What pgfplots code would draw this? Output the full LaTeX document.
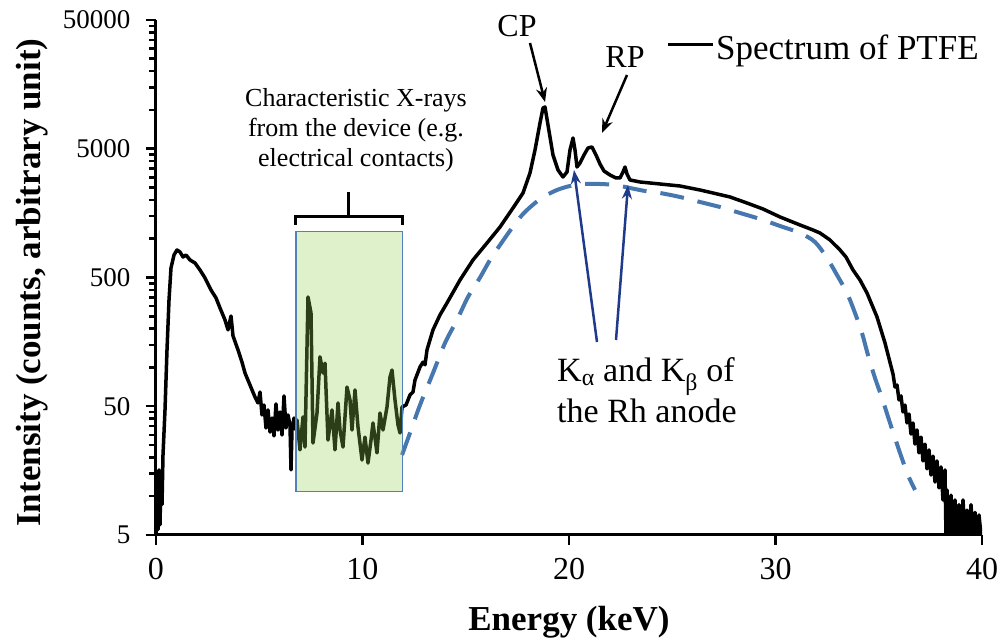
\documentclass[border=0pt]{standalone}
\usepackage{pgfplots}
\pgfplotsset{compat=1.18}
\usepackage{pgfplotstable}
\usepackage{fontspec}
\setmainfont{Liberation Serif}
\usetikzlibrary{arrows.meta}
\definecolor{dashblue}{HTML}{4677AF}
\definecolor{navy}{HTML}{1F3A8A}
\definecolor{boxgreen}{HTML}{92D050}
\definecolor{boxedge}{HTML}{4F81BD}

\pgfplotstableread{
x y
0 5
0.048 13.4
0.097 5.5
0.145 16.0
0.194 6.0
0.242 14.6
0.291 8.6
0.339 20.9
0.436 46.8
0.533 137
0.630 334
0.726 593
0.872 748
1.017 818
1.162 789
1.308 721
1.453 748
1.646 684
1.889 648
2.131 572
2.373 496
2.663 400
2.906 347
3.099 290
3.341 234
3.487 196
3.632 251
3.729 176
3.971 137
4.165 110
4.310 90.6
4.552 73.1
4.794 59.0
4.939 53.0
5.036 64.5
5.133 42.8
5.230 51.1
5.327 33.9
5.424 46.8
5.521 31.5
5.617 40.5
5.714 29.4
5.811 52.1
5.908 32.7
6.005 45.1
6.102 29.9
6.199 60.1
6.295 33.9
6.392 42.8
6.489 35.8
6.538 16.0
6.586 32.7
6.683 40.5
6.780 32.7
6.828 39.1
6.973 22.9
7.119 41.3
7.215 24.1
7.361 353
7.506 265
7.603 25.9
7.797 44.3
7.942 121
8.087 90.6
8.184 108
8.329 27.3
8.523 46.8
8.668 22.9
8.814 53.0
8.910 32.7
9.056 24.1
9.249 70.5
9.395 55.9
9.492 32.7
9.637 66.9
9.782 34.5
9.976 19.1
10.121 28.8
10.266 18.1
10.412 27.3
10.508 37.1
10.702 21.7
10.847 44.3
10.993 32.7
11.186 49.3
11.332 84.4
11.429 95.6
11.574 55.9
11.719 35.8
11.816 31.0
11.913 49.3
12.107 51.1
12.300 61.2
12.446 64.5
12.542 79.9
12.785 101
12.930 110
13.027 105
13.124 137
13.414 196
13.753 256
14.092 317
14.722 478
15.351 684
16.029 927
16.659 1233
17.288 1733
17.772 2266
18.111 3241
18.354 4890
18.596 7924
18.741 10362
18.838 10550
18.983 7646
19.225 4472
19.467 3420
19.709 3017
19.903 3299
20.048 4890
20.194 6061
20.291 4890
20.387 3608
20.533 3875
20.726 4472
20.920 5067
21.114 5160
21.308 4472
21.501 3807
21.695 3359
21.985 3127
22.276 2964
22.470 2964
22.615 3299
22.712 3608
22.809 3184
22.954 2860
23.438 2759
23.923 2710
24.407 2662
24.891 2614
25.375 2568
25.860 2478
26.344 2391
26.973 2266
27.797 2110
28.620 1894
29.395 1702
30.218 1476
31.186 1279
31.816 1169
32.155 1108
32.639 978
33.123 818
33.414 721
33.753 572
34.092 478
34.431 379
34.915 247
35.303 155
35.690 89.0
35.787 70.5
35.884 73.1
35.981 55.9
36.077 60.1
36.174 45.1
36.271 51.1
36.368 37.1
36.465 43.5
36.562 30.4
36.659 37.1
36.755 25.4
36.852 32.7
36.949 21.7
37.046 28.8
37.143 18.8
37.240 25.4
37.337 16.3
37.433 22.9
37.530 14.6
37.627 20.5
37.724 12.9
37.821 18.8
37.918 11.6
38.015 16.9
38.111 9.35
38.208 16.0
38.255 5
38.305 11.2
38.402 5
38.499 10.2
38.596 5
38.692 9.35
38.789 5
38.886 8.6
38.983 5
39.080 9.35
39.177 5
39.274 7.8
39.370 5
39.467 8.6
39.564 5
39.661 7.5
39.758 5
39.855 7.15
39.952 5
}\spectrum

% dashed continuum
\pgfplotstableread{
x y
11.913 20.9
12.300 31.0
12.785 51.1
13.414 90.6
13.995 155
14.576 234
15.109 353
15.690 499
16.174 684
16.659 894
17.240 1212
17.772 1557
18.354 1894
18.838 2148
19.419 2391
20.048 2568
20.775 2662
21.501 2662
22.228 2614
22.954 2478
23.680 2349
24.407 2266
25.375 2110
26.344 1929
27.312 1764
28.281 1585
29.249 1424
30.218 1256
31.186 1108
31.913 943
32.494 709
32.978 523
33.462 379
33.850 265
34.189 185
34.479 125
34.818 82.9
35.157 58.0
35.545 37.1
36.029 21.7
36.416 14.6
36.755 11.2
}\continuum

\begin{document}
\begin{tikzpicture}
\begin{axis}[
    scale only axis,
    width=826pt, height=515pt,
    xmin=0, xmax=40,
    ymode=log, ymin=5, ymax=50000,
    axis lines=left,
    axis line style={-, line width=3pt},
    xtick={0,10,20,30,40},
    ytick={5,50,500,5000,50000},
    yticklabels={5,50,500,5000,50000},
    minor ytick={10,15,20,25,30,35,40,45,100,150,200,250,300,350,400,450,1000,1500,2000,2500,3000,3500,4000,4500,10000,15000,20000,25000,30000,35000,40000,45000},
    tick align=outside,
    major tick length=10pt,
    minor tick length=7pt,
    tick style={black, line width=2.5pt},
    /pgf/number format/assume math mode=true,
    xticklabel style={font=\fontsize{32}{38}\selectfont},
    yticklabel style={font=\fontsize{27}{32}\selectfont},
    xticklabel shift=10pt,
    yticklabel shift=12pt,
    xlabel={Energy (keV)},
    ylabel={Intensity (counts, arbitrary unit)},
    xlabel style={font=\fontsize{35}{42}\selectfont\bfseries,
      at={(axis description cs:0.5,-0.1845)}, anchor=base},
    ylabel style={font=\fontsize{35}{42}\selectfont\bfseries,
      at={(axis description cs:-0.1404,0.49)}, anchor=base},
  ]

  \addplot[black, line width=3.5pt, line join=round] table {\spectrum};
  \addplot[dashblue, line width=4pt, smooth, dash pattern=on 24pt off 14pt] table {\continuum};

  % region of the device lines
  \draw[boxedge, line width=1.5pt, fill=boxgreen, fill opacity=0.3]
    (axis cs:6.78,10.9) rectangle (axis cs:11.93,1140);

\end{axis}

% legend
\draw[black, line width=3pt] (512pt,490pt) -- (557pt,490pt);
\node[anchor=base west, inner sep=0pt, font=\fontsize{35}{42}\selectfont]
  at (560pt,475pt) {Spectrum of PTFE};

% CP and RP
\node[anchor=base, inner sep=0pt, font=\fontsize{32}{38}\selectfont]
  at (361pt,498pt) {CP};
\draw[black, line width=2.5pt, -{Stealth[length=14pt,width=11pt]}]
  (374pt,492pt) -- (389pt,433pt);
\node[anchor=base, inner sep=0pt, font=\fontsize{32}{38}\selectfont]
  at (469pt,467pt) {RP};
\draw[black, line width=2.5pt, -{Stealth[length=14pt,width=11pt]}]
  (471pt,460pt) -- (446pt,402pt);

% K alpha / K beta
\draw[navy, line width=2.5pt, -{Stealth[length=14pt,width=10pt]}]
  (441pt,193pt) -- (418pt,365pt);
\draw[navy, line width=2.5pt, -{Stealth[length=14pt,width=10pt]}]
  (460pt,195pt) -- (472pt,350pt);
\node[anchor=base west, inner sep=0pt, font=\fontsize{34}{40}\selectfont]
  at (401pt,153pt) {K\textsubscript{α} and K\textsubscript{β} of};
\node[anchor=base west, inner sep=0pt, font=\fontsize{34}{40}\selectfont]
  at (401pt,112pt) {the Rh anode};

% bracket and its text
\draw[black, line width=3pt] (139pt,310pt) -- (139pt,318.5pt) -- (246pt,318.5pt) -- (246pt,310pt);
\draw[black, line width=3pt] (192.5pt,318.5pt) -- (192.5pt,343pt);
\node[align=center, inner sep=0pt, font=\fontsize{26}{30}\selectfont]
  at (200pt,405pt) {Characteristic X-rays\\from the device (e.g.\\electrical contacts)};

\pgfresetboundingbox
\path[use as bounding box] (-156pt,-109pt) rectangle (847pt,535pt);
\end{tikzpicture}
\end{document}
